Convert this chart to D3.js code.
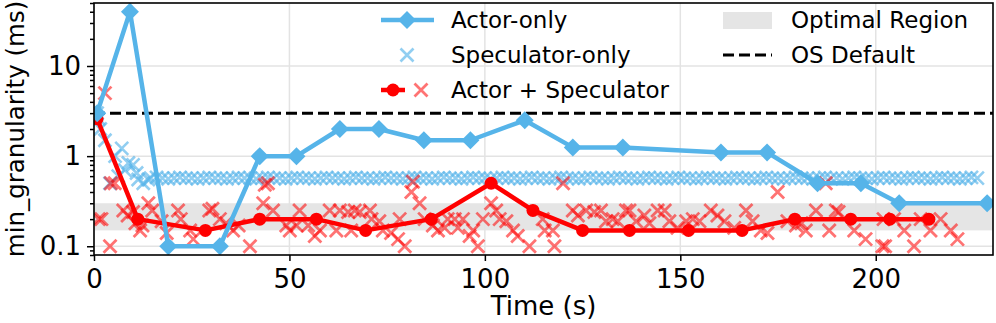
<!DOCTYPE html>
<html lang="en">
  <head>
    <meta charset="UTF-8" />
    <title>min_granularity over time</title>
    <style>
      body { margin: 0; background: #fff; }
      svg { display: block; font-family: "DejaVu Sans", sans-serif; }
      .grid line { stroke: #e3e3e3; stroke-width: 1.5; }
      .axis path { display: none; }
      .axis line { stroke: #000; stroke-width: 1.5; }
      .axis text { font-size: 26px; fill: #000; font-family: "DejaVu Sans", sans-serif; }
      .legend text { font-size: 23px; fill: #000; }
    </style>
  </head>
  <body>
    <svg width="996" height="323"></svg>
    <script src="https://d3js.org/d3.v7.min.js"></script>
    <script>
      // Actor-only (line + diamonds)
      const actorT = [0.8, 9.2, 19, 32.2, 42.4, 51.8, 62.9, 72.9, 84.4, 96.3, 110.2, 122.5, 135.3, 160.4, 172.2, 185.1, 196.2, 206, 228.5];
      const actorV = [3, 40, 0.1, 0.1, 1, 1, 2, 2, 1.5, 1.5, 2.5, 1.25, 1.25, 1.1, 1.1, 0.5, 0.5, 0.3, 0.3];

      // Actor + Speculator (line + circles)
      const comboT = [0.8, 11.2, 28.5, 42.4, 56.9, 69.5, 86.3, 101.6, 112.3, 125, 137, 152.1, 165.8, 179.3, 193.6, 203.6, 213.6];
      const comboV = [2.6, 0.2, 0.15, 0.2, 0.2, 0.15, 0.2, 0.5, 0.25, 0.15, 0.15, 0.15, 0.15, 0.2, 0.2, 0.2, 0.2];

      // Actor + Speculator, speculator samples (red x)
      const comboSpecT = [1.2, 1.9, 2.8, 4.1, 4.3, 5.3, 7.5, 8.6, 10, 10.6, 11.8, 12.4, 13.9, 14.9, 17.3, 18.6, 21.5, 22.2, 24.6, 25.4,
        29.5, 30.3, 32.2, 33.8, 35.6, 37, 39.9, 43.3, 43.7, 44.5, 45.8, 49.2, 50.1, 51.8, 52.6, 54.8, 56.5, 57.8, 60.3, 62,
        62.9, 65, 65.8, 66.7, 68, 70.6, 71, 73, 73.9, 76, 77.8, 78.2, 79.5, 81.2, 81.6, 83.3, 84.6, 86.7, 88, 89.7,
        90.5, 92.3, 93.1, 94.4, 96.1, 97, 98.2, 99.5, 101.6, 102.9, 103.8, 105.5, 107.2, 108.4, 111.4, 114.8, 115.3, 117.4, 117.8, 120,
        122.5, 123.8, 125.9, 128, 129.7, 131, 132.7, 134, 136.1, 137, 138.7, 140.8, 142.1, 144.2, 146, 147.2, 149.3, 151.5, 153.2, 154.9,
        157.8, 159.5, 161.3, 163.8, 166.8, 168.5, 170.6, 172.3, 174.9, 177.4, 179.6, 181, 182.1, 184.7, 187.2, 188.1, 189.8, 190.5, 194.5, 197.4,
        201.7, 202.4, 202, 204.7, 207.3, 209.8, 211.5, 214, 216.6, 219.2, 220.9];
      const comboSpecV = [0.2, 0.2, 5, 0.1, 0.5, 0.5, 0.25, 0.22, 0.24, 0.18, 0.15, 0.17, 0.3, 0.25, 0.19, 0.14, 0.25, 0.2, 0.15, 0.12,
        0.25, 0.26, 0.2, 0.18, 0.15, 0.17, 0.1, 0.3, 0.48, 0.5, 0.25, 0.17, 0.15, 0.17, 0.25, 0.17, 0.13, 0.15, 0.25, 0.15,
        0.25, 0.24, 0.15, 0.25, 0.24, 0.25, 0.2, 0.19, 0.15, 0.14, 0.12, 0.2, 0.1, 0.4, 0.52, 0.3, 0.2, 0.17, 0.15, 0.16,
        0.2, 0.2, 0.16, 0.2, 0.13, 0.15, 0.1, 0.2, 0.3, 0.25, 0.2, 0.19, 0.15, 0.13, 0.1, 0.2, 0.15, 0.15, 0.1, 0.5,
        0.25, 0.22, 0.25, 0.24, 0.25, 0.19, 0.2, 0.19, 0.25, 0.25, 0.19, 0.22, 0.18, 0.25, 0.25, 0.19, 0.16, 0.19, 0.2, 0.19,
        0.25, 0.22, 0.19, 0.16, 0.25, 0.19, 0.15, 0.14, 0.4, 0.19, 0.17, 0.18, 0.15, 0.25, 0.5, 0.15, 0.25, 0.24, 0.15, 0.12,
        0.1, 0.1, 0.2, 0.2, 0.15, 0.1, 0.2, 0.15, 0.2, 0.15, 0.12];

      // Speculator-only samples (blue x)
      const specT = [0.8, 1.2, 1.6, 2.8, 4.1, 5.4, 6.2, 7.1, 7.9, 8.8, 10, 10.9, 11.3, 12.6, 13.9,
        14.5, 16, 17.5, 19, 20.5, 22, 23.5, 25, 26.5, 28, 29.5, 31, 32.5, 34, 35.5, 37, 38.5, 40, 41.5, 43,
        44.5, 46, 47.5, 49, 50.5, 52, 53.5, 55, 56.5, 58, 59.5, 61, 62.5, 64, 65.5, 67, 68.5, 70, 71.5, 73,
        74.5, 76, 77.5, 79, 80.5, 82, 83.5, 85, 86.5, 88, 89.5, 91, 92.5, 94, 95.5, 97, 98.5, 100, 101.5, 103,
        104.5, 106, 107.5, 109, 110.5, 112, 113.5, 115, 116.5, 118, 119.5, 121, 122.5, 124, 125.5, 127, 128.5, 130, 131.5, 133,
        134.5, 136, 137.5, 139, 140.5, 142, 143.5, 145, 146.5, 148, 149.5, 151, 152.5, 154, 155.5, 157, 158.5, 160, 161.5, 163,
        164.5, 166, 167.5, 169, 170.5, 172, 173.5, 175, 176.5, 178, 179.5, 181, 182.5, 184, 185.5, 187, 188.5, 190, 191.5, 193,
        194.5, 196, 197.5, 199, 200.5, 202, 203.5, 205, 206.5, 208, 209.5, 211, 212.5, 214, 215.5, 217, 218.5, 220, 221.5, 223,
        224.5, 226];
      const specV = [3, 2.6, 2, 1.5, 0.5, 1, 0.6, 1.22, 0.7, 0.84, 0.8, 0.65, 0.55, 0.5, 0.55,
        0.57, 0.58, 0.57, 0.56, 0.57, 0.58, 0.57, 0.57, 0.56, 0.57, 0.58, 0.57, 0.57, 0.56, 0.57, 0.58, 0.57, 0.57, 0.56, 0.57,
        0.58, 0.57, 0.57, 0.56, 0.57, 0.58, 0.57, 0.57, 0.56, 0.57, 0.58, 0.57, 0.57, 0.56, 0.57, 0.58, 0.57, 0.57, 0.56, 0.57,
        0.58, 0.57, 0.57, 0.56, 0.57, 0.58, 0.57, 0.57, 0.56, 0.57, 0.58, 0.57, 0.57, 0.56, 0.57, 0.58, 0.57, 0.57, 0.56, 0.57,
        0.58, 0.57, 0.57, 0.56, 0.57, 0.58, 0.57, 0.57, 0.56, 0.57, 0.58, 0.57, 0.57, 0.56, 0.57, 0.58, 0.57, 0.57, 0.56, 0.57,
        0.58, 0.57, 0.57, 0.56, 0.57, 0.58, 0.57, 0.57, 0.56, 0.57, 0.58, 0.57, 0.57, 0.56, 0.57, 0.58, 0.57, 0.57, 0.56, 0.57,
        0.58, 0.57, 0.57, 0.56, 0.57, 0.58, 0.57, 0.57, 0.56, 0.57, 0.58, 0.57, 0.57, 0.56, 0.57, 0.58, 0.57, 0.57, 0.56, 0.57,
        0.58, 0.57, 0.57, 0.56, 0.57, 0.58, 0.57, 0.57, 0.56, 0.57, 0.58, 0.57, 0.57, 0.56, 0.57, 0.58, 0.57, 0.57, 0.56, 0.57,
        0.58, 0.57];

      const osDefault = 3;
      const optimalRegion = [0.15, 0.3];
      const xTicks = [0, 50, 100, 150, 200];
      const yTicks = [0.1, 1, 10];
      const yTickLabels = ["0.1", "1", "10"];

      const blue = "#56b4e9", red = "#ff0000";

      let svg = d3.select("svg"),
        margin = { top: 3, right: 3, bottom: 68, left: 94 },
        width = +svg.attr("width") - margin.left - margin.right,
        height = +svg.attr("height") - margin.top - margin.bottom;

      let x = d3.scaleLinear().domain([0, 230]).range([0, width]),
        y = d3.scaleLog().domain([0.08, 50]).range([height, 0]);

      let g = svg.append("g")
        .attr("transform", "translate(" + margin.left + "," + margin.top + ")");

      svg.append("defs").append("clipPath").attr("id", "plot")
        .append("rect").attr("width", width).attr("height", height);

      // optimal region band
      g.append("rect")
        .attr("x", 0).attr("width", width)
        .attr("y", y(optimalRegion[1]))
        .attr("height", y(optimalRegion[0]) - y(optimalRegion[1]))
        .attr("fill", "#e5e5e5");

      // grid
      let grid = g.append("g").attr("class", "grid");
      grid.selectAll(".gx").data(xTicks).enter().append("line")
        .attr("x1", d => x(d)).attr("x2", d => x(d)).attr("y1", 0).attr("y2", height);
      grid.selectAll(".gy").data(yTicks).enter().append("line")
        .attr("x1", 0).attr("x2", width).attr("y1", d => y(d)).attr("y2", d => y(d));

      // OS default
      g.append("line")
        .attr("x1", 0).attr("x2", width)
        .attr("y1", y(osDefault)).attr("y2", y(osDefault))
        .attr("stroke", "#000").attr("stroke-width", 3).attr("stroke-dasharray", "11,5");

      const xMark = s => "M" + -s + "," + -s + "L" + s + "," + s + "M" + -s + "," + s + "L" + s + "," + -s;
      const diamond = r => "M0," + -r + "L" + r + ",0L0," + r + "L" + -r + ",0Z";

      let plot = g.append("g").attr("clip-path", "url(#plot)");

      // speculator-only x's
      plot.append("g").selectAll("path").data(specT).enter().append("path")
        .attr("transform", (d, i) => "translate(" + x(d) + "," + y(specV[i]) + ")")
        .attr("d", xMark(6.5))
        .attr("stroke", blue).attr("stroke-width", 2.6).attr("stroke-opacity", 0.65).attr("fill", "none");

      // actor + speculator x's
      plot.append("g").selectAll("path").data(comboSpecT).enter().append("path")
        .attr("transform", (d, i) => "translate(" + x(d) + "," + y(comboSpecV[i]) + ")")
        .attr("d", xMark(6.5))
        .attr("stroke", red).attr("stroke-width", 2.8).attr("stroke-opacity", 0.55).attr("fill", "none");

      let line = d3.line().x(d => x(d[0])).y(d => y(d[1]));

      // actor + speculator line
      let combo = comboT.map((t, i) => [t, comboV[i]]);
      plot.append("path").datum(combo).attr("d", line)
        .attr("fill", "none").attr("stroke", red).attr("stroke-width", 4.5).attr("stroke-linejoin", "round");
      plot.append("g").selectAll("circle").data(combo).enter().append("circle")
        .attr("cx", d => x(d[0])).attr("cy", d => y(d[1])).attr("r", 6.5).attr("fill", red);

      // actor-only line
      let actor = actorT.map((t, i) => [t, actorV[i]]);
      plot.append("path").datum(actor).attr("d", line)
        .attr("fill", "none").attr("stroke", blue).attr("stroke-width", 4.5).attr("stroke-linejoin", "round");
      plot.append("g").selectAll("path").data(actor).enter().append("path")
        .attr("transform", d => "translate(" + x(d[0]) + "," + y(d[1]) + ")")
        .attr("d", diamond(9)).attr("fill", blue);

      // axes
      g.append("g").attr("class", "axis")
        .attr("transform", "translate(0," + height + ")")
        .call(d3.axisBottom(x).tickValues(xTicks).tickSize(6).tickPadding(9).tickFormat(d3.format("d")));
      g.append("g").attr("class", "axis")
        .call(d3.axisLeft(y).tickValues(yTicks).tickSize(7).tickPadding(6).tickFormat((d, i) => yTickLabels[i]));
      let minor = [];
      [0.01, 0.1, 1, 10].forEach(b => [2, 3, 4, 5, 6, 7, 8, 9].forEach(k => {
        let v = +(b * k).toPrecision(3);
        if (v >= 0.08 && v <= 50) minor.push(v);
      }));
      g.append("g").attr("class", "axis")
        .call(d3.axisLeft(y).tickValues(minor).tickSize(4).tickFormat(""));

      // frame
      g.append("rect").attr("width", width).attr("height", height)
        .attr("fill", "none").attr("stroke", "#000").attr("stroke-width", 1.6);

      // axis labels
      svg.append("text")
        .attr("x", margin.left + width / 2).attr("y", 315)
        .attr("text-anchor", "middle").style("font-size", "26px")
        .text("Time (s)");
      svg.append("text")
        .attr("transform", "translate(24," + (margin.top + height / 2) + ") rotate(-90)")
        .attr("text-anchor", "middle").style("font-size", "24.5px")
        .text("min_granularity (ms)");

      // legend
      let lg = svg.append("g").attr("class", "legend");
      let rows = [20, 55, 90];
      lg.append("line").attr("x1", 381).attr("x2", 434).attr("y1", rows[0]).attr("y2", rows[0])
        .attr("stroke", blue).attr("stroke-width", 4.5);
      lg.append("path").attr("transform", "translate(407," + rows[0] + ")").attr("d", diamond(9)).attr("fill", blue);
      lg.append("path").attr("transform", "translate(407," + rows[1] + ")").attr("d", xMark(6.5))
        .attr("stroke", blue).attr("stroke-width", 2.6).attr("stroke-opacity", 0.65).attr("fill", "none");
      lg.append("line").attr("x1", 381).attr("x2", 405).attr("y1", rows[2]).attr("y2", rows[2])
        .attr("stroke", red).attr("stroke-width", 4.5);
      lg.append("circle").attr("cx", 393).attr("cy", rows[2]).attr("r", 6.5).attr("fill", red);
      lg.append("path").attr("transform", "translate(421," + rows[2] + ")").attr("d", xMark(6.5))
        .attr("stroke", red).attr("stroke-width", 2.8).attr("stroke-opacity", 0.55).attr("fill", "none");
      lg.append("rect").attr("x", 723).attr("y", rows[0] - 8).attr("width", 49).attr("height", 17).attr("fill", "#e5e5e5");
      lg.append("line").attr("x1", 723).attr("x2", 772).attr("y1", rows[1]).attr("y2", rows[1])
        .attr("stroke", "#000").attr("stroke-width", 3).attr("stroke-dasharray", "11,5");
      [["Actor-only", 451, rows[0]], ["Speculator-only", 451, rows[1]], ["Actor + Speculator", 451, rows[2]],
       ["Optimal Region", 791, rows[0]], ["OS Default", 791, rows[1]]].forEach(t => {
        lg.append("text").attr("x", t[1]).attr("y", t[2] + 8).text(t[0]);
      });
    </script>
  </body>
</html>
